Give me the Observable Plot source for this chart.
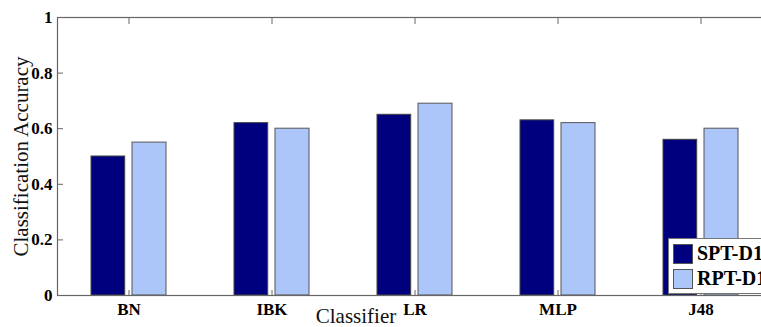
<!DOCTYPE html>
<html>
<head>
<meta charset="utf-8">
<script src="https://cdn.jsdelivr.net/npm/d3@7"></script>
<script src="https://cdn.jsdelivr.net/npm/@observablehq/plot@0.6"></script>
<style>
  html, body { margin: 0; padding: 0; background: #fff; overflow: hidden; }
  #wrap { position: relative; width: 761px; height: 327px; overflow: hidden; }
  #wrap svg { max-width: none !important; font-family: "Liberation Serif", "Times New Roman", serif !important; }
  #wrap svg text { font-family: "Liberation Serif", "Times New Roman", serif !important; }
  #legend {
    position: absolute; left: 668px; top: 238px; width: 120px; height: 56px;
    background: #fff; border: 1px solid #777; box-sizing: border-box;
    font-family: "Liberation Serif", "Times New Roman", serif; font-weight: bold; font-size: 20px;
  }
  .row { position: absolute; left: 4px; height: 21px; display: flex; align-items: center; }
  .sw { width: 20px; height: 20px; box-sizing: border-box; border: 1px solid #555; margin-right: 4px; }
</style>
</head>
<body>
<div id="wrap"></div>
<script>
const classifiers = ["BN", "IBK", "LR", "MLP", "J48"];
const sptD1 = [0.50, 0.62, 0.65, 0.63, 0.56];
const rptD1 = [0.55, 0.60, 0.69, 0.62, 0.60];
const seriesNames = ["SPT-D1", "RPT-D1"];
const seriesColors = ["#00007f", "#adc6fa"];
const yTicks = [0, 0.2, 0.4, 0.6, 0.8, 1];

const rows = classifiers.map((c, i) => ({classifier: c, spt: sptD1[i], rpt: rptD1[i]}));

const axisGray = "#666";

const chart = Plot.plot({
  width: 761,
  height: 327,
  marginLeft: 57,
  marginRight: -11,
  marginTop: 17,
  marginBottom: 32,
  style: {background: "white"},
  x: {type: "band", domain: classifiers, paddingInner: 0.477, paddingOuter: 0.2385, align: 0.5},
  y: {domain: [0, 1]},
  marks: [
    Plot.barY(rows, {x: "classifier", y: "spt", fill: seriesColors[0], stroke: "#444", strokeWidth: 1, insetRight: 41.3}),
    Plot.barY(rows, {x: "classifier", y: "rpt", fill: seriesColors[1], stroke: "#555", strokeWidth: 1, insetLeft: 41}),
    Plot.frame({stroke: axisGray, strokeWidth: 1.2}),
    Plot.axisY({ticks: yTicks, tickSize: -6, tickPadding: 11, stroke: axisGray, fill: "black",
      fontSize: 17, fontWeight: "bold", label: null, tickFormat: d => String(d)}),
    Plot.axisX({anchor: "bottom", tickSize: -5, tickPadding: 12, stroke: axisGray, fill: "black",
      fontSize: 17, fontWeight: "bold", label: null}),
    Plot.axisX({anchor: "top", tickSize: -6, stroke: axisGray, tickFormat: () => "", label: null}),
    Plot.text(["Classification Accuracy"], {frameAnchor: "left", text: d => d, rotate: -90, dx: -36,
      fontSize: 21, fill: "#111", lineAnchor: "middle", textAnchor: "middle"}),
    Plot.text(["Classifier"], {frameAnchor: "bottom", text: d => d, dx: -59, dy: 21,
      fontSize: 21, fill: "#111", lineAnchor: "middle", textAnchor: "middle"})
  ]
});

const wrap = document.getElementById("wrap");
wrap.appendChild(chart);

const legend = document.createElement("div");
legend.id = "legend";
seriesNames.forEach((name, i) => {
  const row = document.createElement("div");
  row.className = "row";
  row.style.top = (4 + i * 25) + "px";
  const sw = document.createElement("div");
  sw.className = "sw";
  sw.style.background = seriesColors[i];
  const label = document.createElement("span");
  label.textContent = name;
  row.appendChild(sw);
  row.appendChild(label);
  legend.appendChild(row);
});
wrap.appendChild(legend);
</script>
</body>
</html>
